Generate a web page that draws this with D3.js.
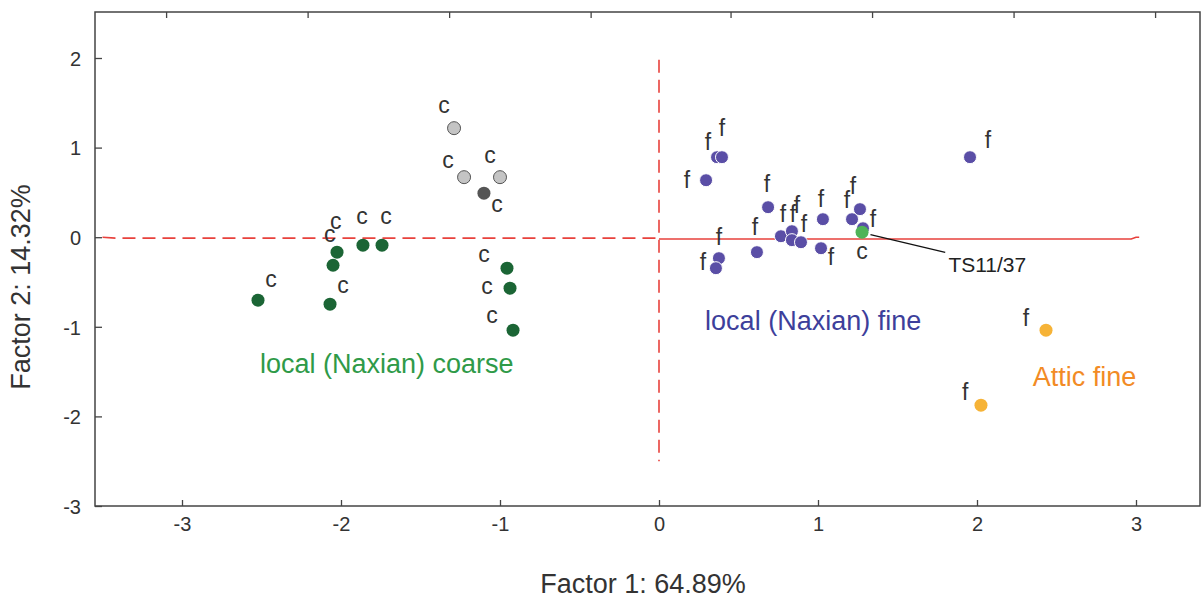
<!DOCTYPE html>
<html>
<head>
<meta charset="utf-8">
<script src="https://cdn.jsdelivr.net/npm/d3@7"></script>
<style>
  body { margin: 0; background: #fff; }
  text { font-family: "Liberation Sans", Arial, sans-serif; }
</style>
</head>
<body>
<div id="chart-area"></div>
<script>
const SVG_WIDTH = 1201;
const SVG_HEIGHT = 598;

// ---- data (factor scores) : [x, y, labelX, labelY] ----
const coarsePoints = [
  [-2.522, -0.703, -2.440, -0.558],
  [-2.069, -0.748, -1.987, -0.625],
  [-2.050, -0.313, -2.070, -0.056],
  [-2.025, -0.167, -2.033, 0.095],
  [-1.862, -0.089, -1.868, 0.145],
  [-1.742, -0.089, -1.717, 0.145],
  [-0.956, -0.346, -1.101, -0.279],
  [-0.937, -0.569, -1.082, -0.636],
  [-0.918, -1.038, -1.050, -0.960]
];
const greyPoints = [
  [-1.289, 1.217, -1.352, 1.384],
  [-1.226, 0.670, -1.327, 0.770],
  [-1.000, 0.670, -1.063, 0.826]
];
const darkGreyPoints = [
  [-1.101, 0.491, -1.019, 0.279]
];
const finePoints = [
  [0.365, 0.893, 0.308, 0.971],
  [0.396, 0.893, 0.396, 1.127],
  [0.296, 0.636, 0.176, 0.547],
  [0.686, 0.335, 0.679, 0.502],
  [0.767, 0.011, 0.780, 0.167],
  [0.836, 0.067, 0.843, 0.167],
  [0.836, -0.033, 0.868, 0.268],
  [0.893, -0.056, 0.912, 0.056],
  [0.616, -0.167, 0.604, 0.022],
  [1.031, 0.201, 1.019, 0.335],
  [1.019, -0.123, 1.082, -0.313],
  [1.264, 0.313, 1.220, 0.480],
  [1.214, 0.201, 1.182, 0.324],
  [1.283, 0.100, 1.346, 0.112],
  [0.377, -0.234, 0.377, -0.089],
  [0.358, -0.346, 0.277, -0.368],
  [1.956, 0.893, 2.069, 0.993]
];
const ts1137Point = [[1.277, 0.056, 1.277, -0.246]];
const atticPoints = [
  [2.434, -1.038, 2.308, -0.993],
  [2.025, -1.875, 1.925, -1.819]
];

const xTicks = [-3, -2, -1, 0, 1, 2, 3];
const yTicks = [-3, -2, -1, 0, 1, 2];
const topTicks = [-3.10, -2.21, -1.32, -0.43, 0.45, 1.34, 2.23, 3.12];

// reference lines
const hDashed = [[-3.50, 0.0], [-3.42, -0.01], [0, -0.01]];
const hSolid = [[0, -0.02], [2.97, -0.02], [3.00, 0.0], [3.02, 0.0]];
const vDashed = [[0, 1.98], [0, -2.5]];

const groupLabels = [
  { text: "local (Naxian) coarse", x: -2.51, y: -1.52, color: "#2f9a48" },
  { text: "local (Naxian) fine", x: 0.29, y: -1.04, color: "#3d3f9b" },
  { text: "Attic fine", x: 2.35, y: -1.66, color: "#f28b25" }
];
const tsLabel = { text: "TS11/37", x: 1.82, y: -0.39 };
const tsLeader = [[1.33, 0.03], [1.80, -0.17]];

// ---- layout ----
const frame = { left: 95, top: 12, right: 1200, bottom: 506 };

const svg = d3.select("#chart-area").append("svg")
  .attr("width", SVG_WIDTH).attr("height", SVG_HEIGHT);

const x = d3.scaleLinear().domain([-3, 3]).range([182, 1136]);
const y = d3.scaleLinear().domain([-3, 2]).range([506, 58]);

// frame
svg.append("rect")
  .attr("x", frame.left).attr("y", frame.top)
  .attr("width", frame.right - frame.left).attr("height", frame.bottom - frame.top)
  .attr("fill", "none").attr("stroke", "#444").attr("stroke-width", 1.5);

// axes
const xAxisCall = d3.axisBottom(x).tickValues(xTicks).tickSizeInner(-6).tickSizeOuter(0).tickPadding(11)
  .tickFormat(d => String(d));
const xAxisGroup = svg.append("g").attr("transform", `translate(0, ${frame.bottom})`).call(xAxisCall);

const yAxisCall = d3.axisLeft(y).tickValues(yTicks).tickSizeInner(-7).tickSizeOuter(0).tickPadding(14)
  .tickFormat(d => String(d));
const yAxisGroup = svg.append("g").attr("transform", `translate(${frame.left}, 0)`).call(yAxisCall);

const topAxisCall = d3.axisTop(x).tickValues(topTicks).tickSizeInner(-6).tickSizeOuter(0).tickFormat("");
const topAxisGroup = svg.append("g").attr("transform", `translate(0, ${frame.top})`).call(topAxisCall);

[xAxisGroup, yAxisGroup, topAxisGroup].forEach(g => {
  g.select(".domain").remove();
  g.selectAll(".tick line").attr("stroke", "#444").attr("stroke-width", 1.3);
  g.selectAll(".tick text").attr("fill", "#333").attr("font-size", "20px")
    .attr("font-family", "'Liberation Sans', Arial, sans-serif");
});
yAxisGroup.selectAll(".tick text").attr("dy", "0.36em");

// axis titles
svg.append("text")
  .attr("x", 643).attr("y", 593)
  .attr("text-anchor", "middle").attr("font-size", "27px").attr("fill", "#333")
  .text("Factor 1: 64.89%");

svg.append("text")
  .attr("transform", "translate(30, 287) rotate(-90)")
  .attr("text-anchor", "middle").attr("font-size", "27px").attr("fill", "#333")
  .text("Factor 2: 14.32%");

// reference lines
const line = d3.line().x(d => x(d[0])).y(d => y(d[1]));
svg.append("path").attr("d", line(hDashed)).attr("fill", "none")
  .attr("stroke", "#e8413c").attr("stroke-width", 1.6).attr("stroke-dasharray", "13,7");
svg.append("path").attr("d", line(hSolid)).attr("fill", "none")
  .attr("stroke", "#e8413c").attr("stroke-width", 1.6);
svg.append("path").attr("d", line(vDashed)).attr("fill", "none")
  .attr("stroke", "#e8413c").attr("stroke-width", 1.6).attr("stroke-dasharray", "13,7");

// points
function drawPoints(data, fill, stroke, letter) {
  const g = svg.append("g");
  g.selectAll("circle").data(data).enter().append("circle")
    .attr("cx", d => x(d[0])).attr("cy", d => y(d[1])).attr("r", 6.5)
    .attr("fill", fill)
    .attr("stroke", stroke || "none").attr("stroke-width", stroke ? 1 : 0);
  g.selectAll("text").data(data).enter().append("text")
    .attr("x", d => x(d[2])).attr("y", d => y(d[3]))
    .attr("text-anchor", "middle").attr("font-size", "23px").attr("fill", "#333")
    .text(letter);
}

drawPoints(coarsePoints, "#1b6535", null, "c");
drawPoints(greyPoints, "#c4c4c4", "#555", "c");
drawPoints(darkGreyPoints, "#555", null, "c");
drawPoints(finePoints, "#5a4ea6", "#fff", "f");
drawPoints(ts1137Point, "#4fb358", null, "c");
drawPoints(atticPoints, "#f6b337", null, "f");

// TS11/37 annotation
svg.append("path").attr("d", line(tsLeader)).attr("stroke", "#111").attr("stroke-width", 1.3);
svg.append("text")
  .attr("x", x(tsLabel.x)).attr("y", y(tsLabel.y))
  .attr("font-size", "21px").attr("fill", "#222")
  .attr("font-family", "'Open Sans', sans-serif")
  .text(tsLabel.text);

// group labels
svg.selectAll(".group-label").data(groupLabels).enter().append("text")
  .attr("class", "group-label")
  .attr("x", d => x(d.x)).attr("y", d => y(d.y))
  .attr("font-size", "27px").attr("fill", d => d.color)
  .attr("font-family", "'Open Sans', sans-serif")
  .text(d => d.text);
</script>
</body>
</html>
